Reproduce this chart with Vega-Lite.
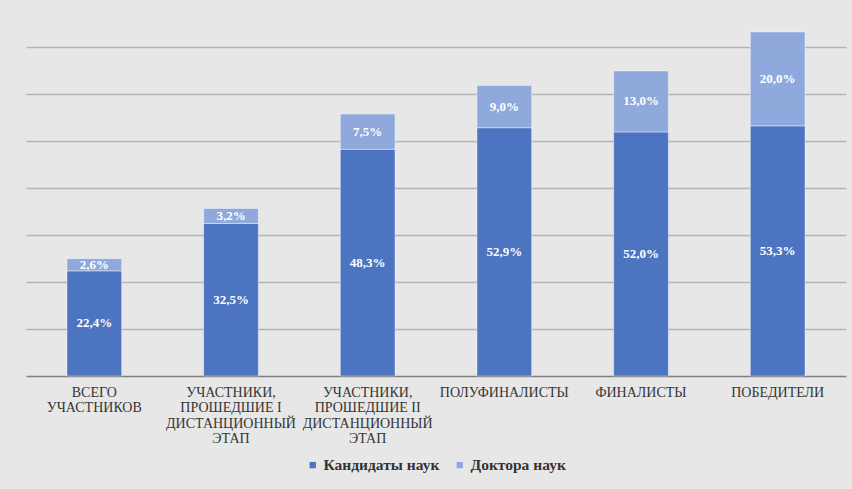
{
  "$schema": "https://vega.github.io/schema/vega-lite/v6.json",
  "width": 820,
  "height": 352,
  "autosize": {"type": "none"},
  "padding": {"left": 26, "top": 24, "right": 6, "bottom": 113},
  "background": "#e7e7e7",
  "config": {
    "view": {"stroke": null},
    "font": "Liberation Serif"
  },
  "data": {
    "values": [
      {"cat": "ВСЕГО|УЧАСТНИКОВ", "series": "Кандидаты наук", "ord": 1, "value": 22.4},
      {"cat": "ВСЕГО|УЧАСТНИКОВ", "series": "Доктора наук", "ord": 2, "value": 2.6},
      {"cat": "УЧАСТНИКИ,|ПРОШЕДШИЕ I|ДИСТАНЦИОННЫЙ|ЭТАП", "series": "Кандидаты наук", "ord": 1, "value": 32.5},
      {"cat": "УЧАСТНИКИ,|ПРОШЕДШИЕ I|ДИСТАНЦИОННЫЙ|ЭТАП", "series": "Доктора наук", "ord": 2, "value": 3.2},
      {"cat": "УЧАСТНИКИ,|ПРОШЕДШИЕ II|ДИСТАНЦИОННЫЙ|ЭТАП", "series": "Кандидаты наук", "ord": 1, "value": 48.3},
      {"cat": "УЧАСТНИКИ,|ПРОШЕДШИЕ II|ДИСТАНЦИОННЫЙ|ЭТАП", "series": "Доктора наук", "ord": 2, "value": 7.5},
      {"cat": "ПОЛУФИНАЛИСТЫ", "series": "Кандидаты наук", "ord": 1, "value": 52.9},
      {"cat": "ПОЛУФИНАЛИСТЫ", "series": "Доктора наук", "ord": 2, "value": 9.0},
      {"cat": "ФИНАЛИСТЫ", "series": "Кандидаты наук", "ord": 1, "value": 52.0},
      {"cat": "ФИНАЛИСТЫ", "series": "Доктора наук", "ord": 2, "value": 13.0},
      {"cat": "ПОБЕДИТЕЛИ", "series": "Кандидаты наук", "ord": 1, "value": 53.3},
      {"cat": "ПОБЕДИТЕЛИ", "series": "Доктора наук", "ord": 2, "value": 20.0}
    ]
  },
  "transform": [
    {"stack": "value", "groupby": ["cat"], "sort": [{"field": "ord", "order": "ascending"}], "as": ["y0", "y1"]},
    {"calculate": "(datum.y0 + datum.y1) / 2", "as": "ymid"},
    {"calculate": "replace(format(datum.value, '.1f'), '.', ',') + '%'", "as": "lbl"}
  ],
  "encoding": {
    "x": {
      "field": "cat",
      "type": "nominal",
      "sort": null,
      "scale": {"paddingInner": 0.6, "paddingOuter": 0.3},
      "axis": {
        "title": null,
        "labelAngle": 0,
        "labelExpr": "split(datum.label, '|')",
        "labelFont": "Liberation Serif",
        "labelFontSize": 14,
        "labelColor": "#353535",
        "labelLineHeight": 15.5,
        "labelPadding": 9,
        "ticks": false,
        "domainColor": "#7f7f7f",
        "domainWidth": 1.5,
        "labelLimit": 200
      }
    }
  },
  "layer": [
    {
      "mark": {"type": "bar", "stroke": "#ffffff", "strokeOpacity": 0.5, "strokeWidth": 0.8},
      "encoding": {
        "y": {
          "field": "y0",
          "type": "quantitative",
          "scale": {"domain": [0, 75], "nice": false},
          "axis": {
            "title": null,
            "labels": false,
            "ticks": false,
            "domain": false,
            "values": [10, 20, 30, 40, 50, 60, 70],
            "gridColor": "#b5b5b5",
            "gridWidth": 1.3
          }
        },
        "y2": {"field": "y1"},
        "color": {
          "field": "series",
          "type": "nominal",
          "scale": {"domain": ["Кандидаты наук", "Доктора наук"], "range": ["#4d74c1", "#8fa9dc"]},
          "legend": {
            "title": null,
            "orient": "none",
            "legendX": 279,
            "legendY": 433,
            "direction": "horizontal",
            "symbolType": "square",
            "symbolSize": 40,
            "symbolStrokeWidth": 0,
            "labelFont": "Liberation Serif",
            "labelFontSize": 15.5,
            "labelFontWeight": "bold",
            "labelColor": "#333333",
            "columnPadding": 12,
            "labelOffset": 3
          }
        }
      }
    },
    {
      "mark": {"type": "text", "color": "#ffffff", "font": "Liberation Serif", "fontWeight": "bold", "fontSize": 13, "baseline": "middle"},
      "encoding": {
        "y": {"field": "ymid", "type": "quantitative"},
        "text": {"field": "lbl"}
      }
    }
  ]
}
